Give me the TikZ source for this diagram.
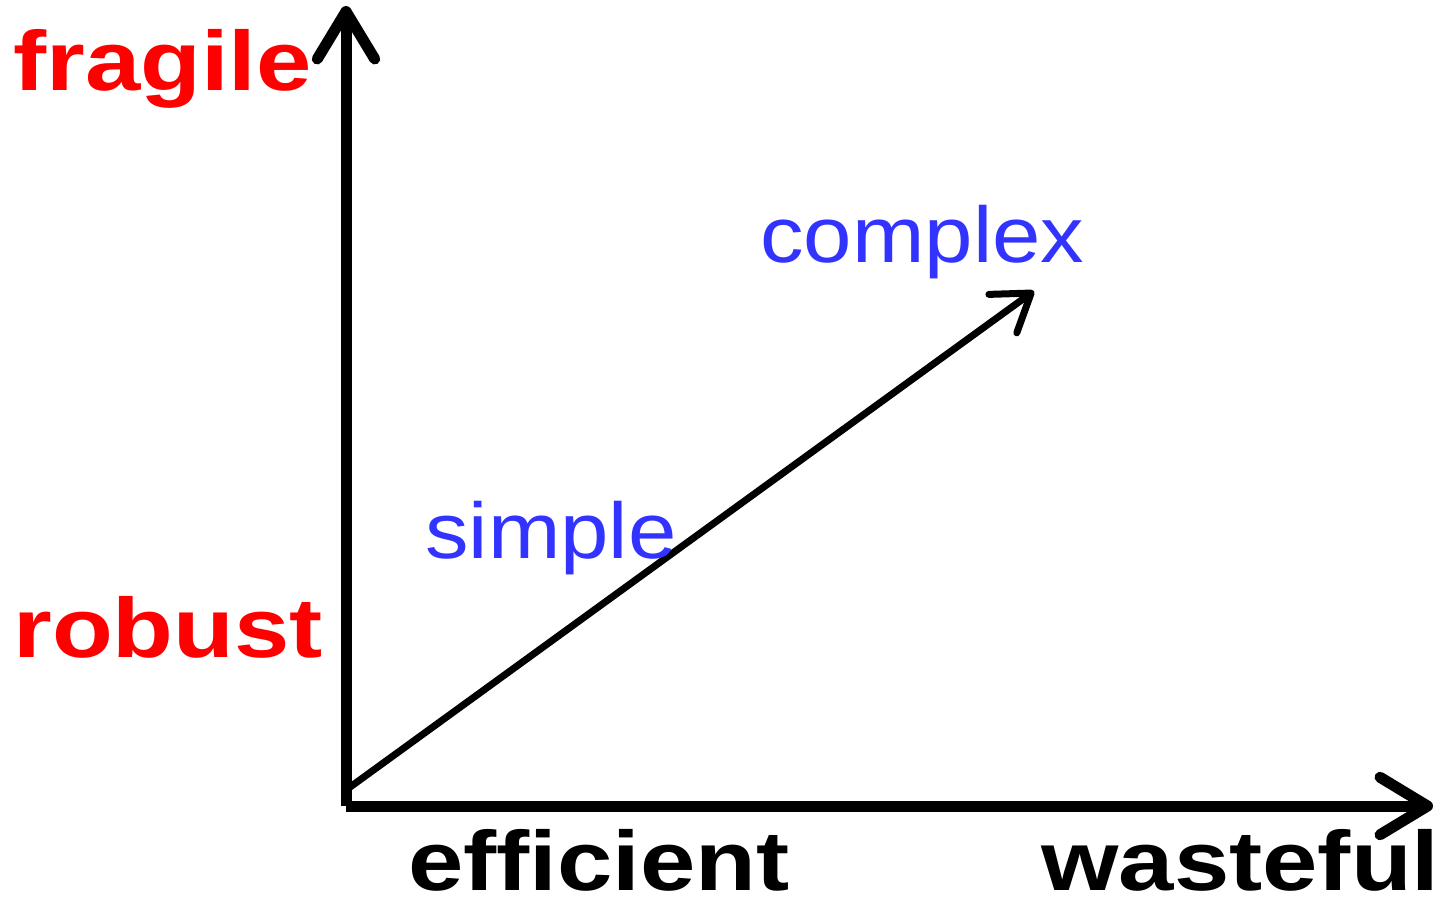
\documentclass[tikz,border=0pt]{standalone}
\usepackage{fontspec}
\usepackage{xcolor}
\usetikzlibrary{arrows.meta}
\newfontfamily\boldlabel[FakeStretch=1.18]{Liberation Sans Bold}
\newfontfamily\plainlabel[FakeStretch=1.1]{Liberation Sans}
\definecolor{axisred}{RGB}{255,0,0}
\definecolor{pathblue}{RGB}{51,51,255}

\begin{document}
\begin{tikzpicture}[x=0.02cm,y=-0.02cm,
  axislabel/.style={anchor=base west,inner sep=0pt,font=\boldlabel\fontsize{48}{48}\selectfont},
  pathlabel/.style={anchor=base west,inner sep=0pt,text=pathblue,font=\plainlabel\fontsize{45}{45}\selectfont},
  axisline/.style={line width=0.22cm,-{Straight Barb[length=0.95cm,width=1.15cm,round]}},
  trendline/.style={line width=0.14cm,-{Straight Barb[length=0.7cm,width=0.95cm,round]}}]
\useasboundingbox (0,0) rectangle (1437,897);

% Axes
\coordinate (origin) at (346,806);
\coordinate (ytop) at (346,6);
\coordinate (xend) at (1433,806);
\draw[axisline] (origin) -- (ytop);
\draw[axisline] (origin) -- (xend);

% Vertical labels
\node[axislabel,text=axisred] (fragile) at (13,90) {fragile};
\node[axislabel,text=axisred] (robust) at (13,657) {robust};

% Horizontal labels
\node[axislabel] (efficient) at (408,890) {efficient};
\node[axislabel] (wasteful) at (1041,890) {wasteful};

% Trend
\coordinate (start) at (346,790);
\coordinate (finish) at (1034,291);
\draw[trendline] (start) -- (finish);
\node[pathlabel] (simple) at (425,558) {simple};
\node[pathlabel] (complex) at (760,262) {complex};
\end{tikzpicture}
\end{document}
